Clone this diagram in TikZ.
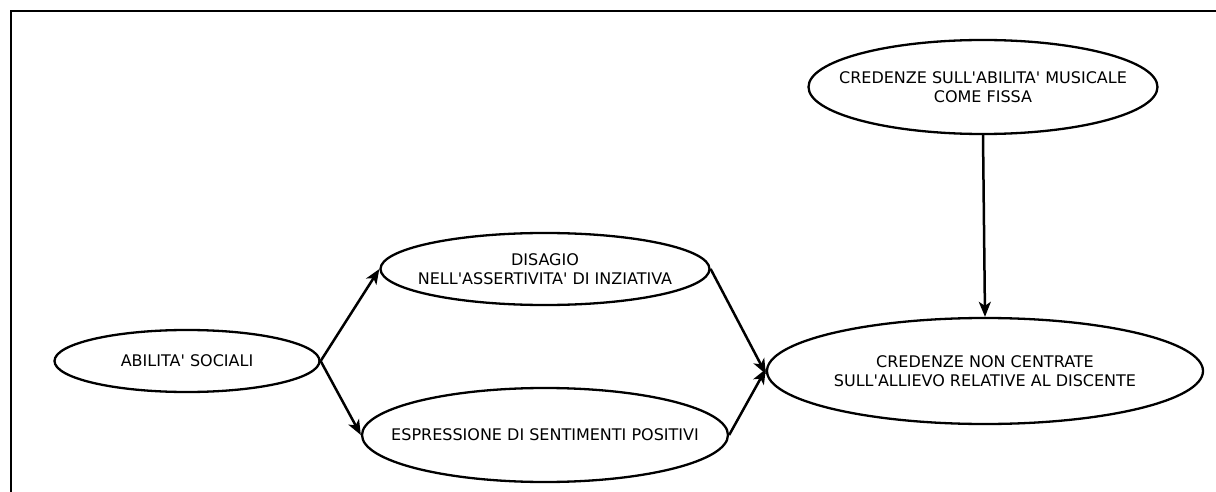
\documentclass[tikz,border=0pt]{standalone}
\usepackage{fontspec}
\setmainfont{DejaVu Sans}[Ligatures=TeXOff]
\usepackage{tikz}
\usetikzlibrary{arrows.meta,shapes.geometric}

\begin{document}
\begin{tikzpicture}[x=1pt,y=-1pt,font=\fontsize{16}{19}\selectfont,>={Stealth[length=15pt,width=12pt,inset=4pt]},
    oval/.style={draw,ellipse,line width=2.3pt,inner xsep=-40pt,inner ysep=0pt,align=center},
    link/.style={line width=2.5pt,->}]
  \useasboundingbox (0,0) rectangle (1216,492);
  % frame (only top and left edges show)
  \draw[line width=2.4pt] (11,492) -- (11,11) -- (1216,11);
  \node[oval,minimum width=265pt,minimum height=62pt] (soc) at (187,361) {ABILITA' SOCIALI};
  \node[oval,minimum width=329pt,minimum height=72pt] (dis) at (545,269) {DISAGIO\\NELL'ASSERTIVITA' DI INZIATIVA};
  \node[oval,minimum width=366pt,minimum height=94pt] (esp) at (545,435) {ESPRESSIONE DI SENTIMENTI POSITIVI};
  \node[oval,minimum width=436pt,minimum height=106pt] (cre) at (985,371) {CREDENZE NON CENTRATE\\SULL'ALLIEVO RELATIVE AL DISCENTE};
  \node[oval,minimum width=349pt,minimum height=94pt] (mus) at (983,87) {CREDENZE SULL'ABILITA' MUSICALE\\COME FISSA};
  \draw[link] (soc.east) -- (dis.west);
  \draw[link] (soc.east) -- (esp.west);
  \draw[link] (dis.east) -- ([yshift=-3pt]cre.west);
  \draw[link] (esp.east) -- ([yshift=2pt]cre.west);
  \draw[link] (mus.south) -- (cre.north);
\end{tikzpicture}
\end{document}
